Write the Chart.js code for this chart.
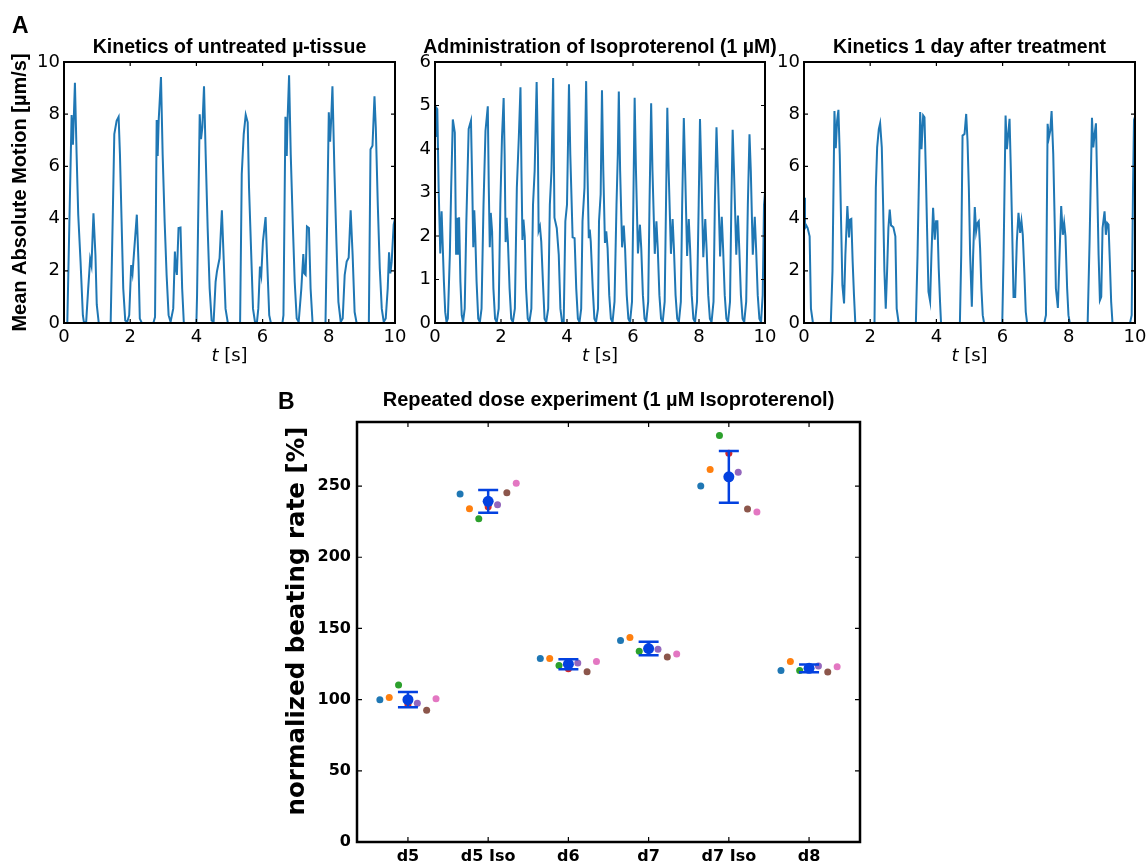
<!DOCTYPE html>
<html>
<head>
<meta charset="utf-8">
<script src="https://cdn.jsdelivr.net/npm/chart.js"></script>
<style>
  html, body { margin: 0; padding: 0; background: #fff; }
  body { position: relative; width: 1147px; height: 863px; overflow: hidden; }
  canvas { position: absolute; }
</style>
</head>
<body>
<canvas id="kin1" width="412" height="370" style="left:0;top:0"></canvas>
<canvas id="kin2" width="382" height="370" style="left:400px;top:0"></canvas>
<canvas id="kin3" width="385" height="370" style="left:770px;top:0"></canvas>
<canvas id="dose" width="600" height="483" style="left:270px;top:380px"></canvas>
<script>
// A: untreated tissue, mean absolute motion over 10 s
const t1 = [0, 0.1, 0.23, 0.27, 0.33, 0.38, 0.43, 0.5, 0.57, 0.6, 0.67,
  0.73, 0.79, 0.83, 0.89, 0.95, 0.99, 1.05, 1.41,
  1.47, 1.52, 1.59, 1.65, 1.69, 1.74, 1.79, 1.85, 1.91, 1.97,
  2.03, 2.07, 2.11, 2.2, 2.25, 2.29, 2.35, 2.7,
  2.75, 2.8, 2.83, 2.86, 2.93, 2.98, 3.04, 3.1, 3.16, 3.22,
  3.3, 3.35, 3.38, 3.41, 3.46, 3.52, 3.57, 3.62, 4.0,
  4.02, 4.1, 4.14, 4.18, 4.23, 4.28, 4.34, 4.4, 4.46, 4.52,
  4.58, 4.62, 4.7, 4.77, 4.82, 4.88, 4.95, 5.32,
  5.37, 5.43, 5.49, 5.55, 5.59, 5.65, 5.71, 5.77, 5.83,
  5.87, 5.92, 5.96, 6.01, 6.09, 6.15, 6.2, 6.25, 6.6,
  6.63, 6.69, 6.73, 6.75, 6.8, 6.85, 6.91, 6.97, 7.03, 7.09,
  7.17, 7.23, 7.26, 7.3, 7.34, 7.4, 7.45, 7.51, 7.9,
  7.95, 8.0, 8.04, 8.07, 8.11, 8.17, 8.23, 8.29, 8.36, 8.42,
  8.48, 8.54, 8.6, 8.66, 8.72, 8.78, 8.84, 9.21,
  9.26, 9.32, 9.38, 9.42, 9.48, 9.54, 9.6, 9.66, 9.72,
  9.78, 9.82, 9.86, 9.9, 9.96, 10];
const v1 = [0, 0, 7.97, 6.83, 9.2, 6.5, 4.15, 2.35, 0.3, 0.04, 0.04,
  1.3, 2.45, 2.2, 4.2, 2.6, 0.7, 0, 0,
  3.9, 7.24, 7.75, 7.9, 6.47, 3.9, 1.32, 0.1, 0.04, 0.3,
  2.22, 1.9, 2.6, 4.15, 2.35, 0.17, 0, 0,
  0.23, 7.78, 6.4, 7.75, 9.42, 6.47, 3.9, 1.84, 0.3, 0.04,
  0.55, 2.74, 2.1, 1.84, 3.64, 3.66, 1.32, 0, 0,
  1.07, 8.0, 7.04, 7.5, 9.07, 6.47, 3.64, 1.32, 0.1, 0.04,
  1.58, 1.97, 2.48, 4.32, 2.6, 0.55, 0, 0,
  5.7, 7.24, 7.98, 7.69, 5.18, 2.87, 0.55, 0.04, 0.04,
  0.55, 2.16, 1.84, 3.12, 4.06, 1.97, 0.3, 0, 0,
  0.3, 7.9, 6.4, 7.62, 9.49, 6.47, 3.9, 1.58, 0.17, 0.04,
  1.32, 2.64, 1.9, 1.84, 3.7, 3.64, 1.32, 0, 0,
  3.9, 8.07, 6.95, 7.75, 9.07, 5.82, 3.12, 0.81, 0.04, 0.17,
  1.84, 2.35, 2.5, 4.32, 2.6, 0.42, 0, 0,
  6.66, 6.79, 8.69, 7.49, 4.54, 2.1, 0.55, 0.04, 0.17,
  1.32, 2.71, 1.9, 2.35, 3.77, 4.0];

// A: during isoproterenol administration
const t2 = [0, 0.03, 0.07, 0.11, 0.16, 0.2, 0.23, 0.27, 0.31, 0.35, 0.39,
  0.45, 0.49, 0.54, 0.6, 0.64, 0.68, 0.7, 0.73, 0.77, 0.81, 0.85, 0.9,
  0.95, 1.02, 1.09, 1.13, 1.16, 1.19, 1.22, 1.26, 1.31, 1.36, 1.41,
  1.47, 1.53, 1.6, 1.63, 1.66, 1.69, 1.73, 1.77, 1.82, 1.87, 1.93,
  1.98, 2.03, 2.08, 2.11, 2.14, 2.17, 2.21, 2.26, 2.31, 2.36, 2.42,
  2.48, 2.54, 2.59, 2.62, 2.65, 2.68, 2.72, 2.76, 2.81, 2.86, 2.92,
  2.97, 3.02, 3.08, 3.12, 3.14, 3.18, 3.22, 3.27, 3.32, 3.37, 3.43,
  3.48, 3.53, 3.58, 3.62, 3.69, 3.75, 3.8, 3.85, 3.9,
  3.95, 4.0, 4.06, 4.1, 4.17, 4.23, 4.28, 4.33, 4.38, 4.43,
  4.47, 4.53, 4.58, 4.62, 4.66, 4.69, 4.72, 4.78, 4.83, 4.88, 4.94,
  4.97, 5.02, 5.06, 5.1, 5.15, 5.19, 5.23, 5.28, 5.33, 5.38, 5.44,
  5.5, 5.54, 5.57, 5.61, 5.67, 5.72, 5.76, 5.81, 5.86, 5.91, 5.97,
  6.01, 6.05, 6.09, 6.15, 6.21, 6.25, 6.3, 6.35, 6.4, 6.46,
  6.5, 6.55, 6.59, 6.66, 6.71, 6.75, 6.8, 6.85, 6.9, 6.96,
  7.0, 7.04, 7.08, 7.15, 7.2, 7.24, 7.29, 7.34, 7.39, 7.45,
  7.49, 7.54, 7.58, 7.64, 7.69, 7.73, 7.78, 7.83, 7.88, 7.94,
  7.99, 8.03, 8.07, 8.13, 8.19, 8.23, 8.28, 8.33, 8.38, 8.44,
  8.48, 8.53, 8.57, 8.64, 8.69, 8.73, 8.78, 8.83, 8.88, 8.94,
  8.98, 9.02, 9.06, 9.13, 9.18, 9.22, 9.27, 9.32, 9.37, 9.43,
  9.48, 9.53, 9.57, 9.63, 9.69, 9.73, 9.78, 9.83, 9.88, 9.93, 9.97, 10];
const v2 = [4.3, 4.96, 4.92, 3.11, 1.6, 2.57, 1.87, 0.95, 0.25, 0.02, 0.1,
  1.57, 3.11, 4.68, 4.38, 1.57, 2.42, 1.57, 2.43, 0.95, 0.18, 0.02, 0.33,
  2.34, 4.46, 4.65, 3.11, 1.74, 2.59, 2.03, 0.95, 0.1, 0.02, 0.33,
  2.72, 4.42, 4.98, 3.11, 1.74, 2.53, 2.11, 0.79, 0.1, 0.02, 0.33,
  2.72, 4.27, 5.17, 3.88, 1.86, 2.42, 1.87, 0.79, 0.1, 0.02, 0.33,
  3.11, 4.27, 5.42, 3.5, 1.91, 2.38, 1.99, 0.79, 0.1, 0.02, 0.33,
  2.72, 3.5, 5.54, 3.88, 2.12, 2.22, 1.87, 0.95, 0.1, 0.02, 0.33,
  2.72, 3.5, 5.63, 2.42, 2.18, 1.57, 0.33, 0.02, 0.02,
  2.34, 2.72, 5.49, 3.88, 1.97, 1.95, 0.79, 0.1, 0.02, 0.33,
  2.34, 3.11, 5.56, 3.5, 1.95, 2.15, 1.87, 0.79, 0.1, 0.02, 0.33,
  2.34, 2.96, 5.35, 3.5, 1.84, 2.11, 1.72, 0.64, 0.1, 0.02, 0.49,
  2.72, 3.88, 5.32, 3.5, 1.74, 2.24, 1.72, 0.64, 0.1, 0.02, 0.49,
  2.72, 5.18, 3.5, 1.6, 2.26, 1.72, 0.64, 0.1, 0.02, 0.49,
  2.72, 5.05, 3.5, 1.59, 2.34, 1.72, 0.64, 0.1, 0.02, 0.49,
  2.72, 4.95, 3.5, 1.59, 2.39, 1.72, 0.64, 0.1, 0.02, 0.49,
  2.72, 4.71, 3.5, 1.54, 2.39, 1.72, 0.64, 0.1, 0.02, 0.49,
  2.72, 4.69, 3.5, 1.51, 2.39, 1.72, 0.64, 0.1, 0.02, 0.49,
  2.72, 4.5, 3.5, 1.53, 2.44, 1.72, 0.64, 0.1, 0.02, 0.49,
  2.72, 4.44, 3.5, 1.57, 2.47, 1.72, 0.64, 0.1, 0.02, 0.49,
  2.72, 4.34, 3.5, 1.57, 2.44, 1.72, 0.64, 0.1, 0.02, 0.64, 2.72, 3.0];

// A: one day after treatment
const t3 = [0, 0.03, 0.07, 0.11, 0.17, 0.21, 0.27, 0.81,
  0.86, 0.92, 0.96, 1.0, 1.04, 1.08, 1.12, 1.16, 1.21,
  1.25, 1.31, 1.36, 1.39, 1.43, 1.47, 1.51, 1.55, 2.13,
  2.17, 2.21, 2.26, 2.3, 2.35, 2.39, 2.43, 2.47,
  2.51, 2.55, 2.59, 2.63, 2.7, 2.76, 2.8, 2.86, 3.38,
  3.43, 3.51, 3.55, 3.6, 3.64, 3.68, 3.72, 3.76, 3.81,
  3.85, 3.9, 3.95, 3.99, 4.03, 4.07, 4.11, 4.14, 4.71,
  4.75, 4.79, 4.85, 4.9, 4.94, 4.98, 5.02, 5.07,
  5.11, 5.16, 5.2, 5.24, 5.28, 5.32, 5.36, 5.4, 5.44, 5.99,
  6.03, 6.09, 6.13, 6.17, 6.21, 6.25, 6.29, 6.33, 6.38,
  6.43, 6.48, 6.53, 6.57, 6.61, 6.66, 6.7, 6.74, 7.26,
  7.31, 7.36, 7.4, 7.44, 7.48, 7.53, 7.58, 7.61, 7.67,
  7.72, 7.77, 7.82, 7.86, 7.9, 7.95, 7.99, 8.03, 8.57,
  8.63, 8.7, 8.74, 8.78, 8.82, 8.86, 8.9, 8.94, 8.98,
  9.02, 9.08, 9.12, 9.16, 9.2, 9.24, 9.28, 9.32, 9.85,
  9.9, 9.94, 9.97, 10];
const v3 = [4.8, 3.64, 3.74, 3.64, 3.32, 0.55, 0, 0,
  1.97, 8.12, 6.7, 7.76, 8.17, 6.47, 3.9, 1.45, 0.75,
  2.61, 4.48, 3.28, 3.96, 3.99, 2.35, 1.07, 0, 0,
  5.18, 6.73, 7.43, 7.65, 6.73, 4.54, 1.97, 0.55,
  1.97, 3.64, 4.35, 3.74, 3.67, 3.32, 0.55, 0, 0,
  2.61, 8.08, 6.66, 7.95, 7.88, 5.83, 3.51, 1.2, 0.84,
  2.61, 4.41, 3.19, 3.9, 3.9, 2.1, 0.81, 0, 0,
  2.61, 7.18, 7.24, 8.01, 6.98, 5.18, 2.6, 0.62,
  2.61, 4.44, 3.51, 3.83, 3.9, 2.87, 1.32, 0.3, 0, 0,
  2.61, 7.95, 6.66, 7.24, 7.82, 5.83, 3.51, 1.0, 1.0,
  3.13, 4.22, 3.45, 3.9, 3.38, 1.84, 0.42, 0, 0,
  0.3, 7.63, 7.11, 7.37, 8.12, 6.47, 3.51, 1.32, 0.58,
  2.61, 4.48, 3.38, 3.83, 3.32, 1.32, 0.3, 0, 0,
  3.25, 7.86, 6.73, 7.24, 7.65, 5.18, 2.61, 0.87, 1.0,
  3.64, 4.28, 3.38, 3.83, 3.77, 2.35, 0.81, 0, 0,
  0.3, 5.18, 7.79, 7.9];

// B: repeated dose experiment, one array per tissue
const doses = ['d5', 'd5 Iso', 'd6', 'd7', 'd7 Iso', 'd8'];
const tissue1 = [100, 244.4, 128.9, 141.5, 250, 120.5];
const tissue2 = [101.5, 234, 128.9, 143.6, 261.7, 126.7];
const tissue3 = [110.3, 227, 124, 134, 285.6, 120.5];
const tissue4 = [96.5, 235.5, 121.6, 135, 273, 121.5];
const tissue5 = [97.5, 236.9, 125.7, 135.4, 259.7, 123.6];
const tissue6 = [92.6, 245.3, 119.5, 130, 233.9, 119.4];
const tissue7 = [100.6, 251.9, 126.7, 132.1, 231.8, 123.1];
const meanRate = [100, 239.3, 124.9, 135.9, 256.5, 122];
const errRate = [5.3, 8, 3.5, 4.7, 18.2, 2.7];

const jitter = [-0.35, -0.233, -0.117, 0, 0.117, 0.233, 0.35];
const tab10 = ['#1f77b4', '#ff7f0e', '#2ca02c', '#d62728', '#9467bd', '#8c564b', '#e377c2'];
const meanBlue = '#0341e0';

Chart.defaults.font.family = 'DejaVu Sans';
Chart.defaults.color = '#000';
Chart.defaults.animation = false;
Chart.defaults.plugins.legend.display = false;
Chart.defaults.plugins.tooltip.enabled = false;

// matplotlib-like box with inward ticks on all four sides
const boxTicks = {
  id: 'boxTicks',
  afterDraw(chart, args, o) {
    const { ctx, chartArea: a, scales: { x, y } } = chart;
    ctx.save();
    ctx.strokeStyle = '#000';
    ctx.lineWidth = 1.2;
    ctx.beginPath();
    x.ticks.forEach(t => {
      const px = x.getPixelForValue(t.value);
      ctx.moveTo(px, a.bottom); ctx.lineTo(px, a.bottom - o.len);
      ctx.moveTo(px, a.top); ctx.lineTo(px, a.top + o.len);
    });
    y.ticks.forEach(t => {
      const py = y.getPixelForValue(t.value);
      ctx.moveTo(a.left, py); ctx.lineTo(a.left + o.len, py);
      ctx.moveTo(a.right, py); ctx.lineTo(a.right - o.len, py);
    });
    ctx.stroke();
    ctx.lineWidth = o.frame;
    ctx.strokeRect(a.left, a.top, a.right - a.left, a.bottom - a.top);
    ctx.restore();
  }
};

// heading over the plot area, the panel letter and an optional rotated y label
const heading = {
  id: 'heading',
  afterDraw(chart, args, o) {
    const { ctx, chartArea: a } = chart;
    ctx.save();
    ctx.fillStyle = '#000';
    ctx.textBaseline = 'middle';
    ctx.textAlign = 'center';
    ctx.font = 'bold ' + o.size + 'px "Liberation Sans"';
    ctx.fillText(o.text, (a.left + a.right) / 2, a.top - o.gap);
    if (o.ylabel) {
      ctx.save();
      ctx.translate(o.ylabel.x, (a.top + a.bottom) / 2 + o.ylabel.shift);
      ctx.rotate(-Math.PI / 2);
      ctx.font = o.ylabel.font;
      ctx.fillText(o.ylabel.text, 0, 0);
      ctx.restore();
    }
    if (o.letter) {
      ctx.textAlign = 'left';
      ctx.textBaseline = 'alphabetic';
      ctx.font = 'bold 23px "Liberation Sans"';
      ctx.fillText(o.letter, o.lx, o.ly);
    }
    ctx.restore();
  }
};

// x title "t [s]" with italic t
const timeTitle = {
  id: 'timeTitle',
  afterDraw(chart, args, o) {
    const { ctx, chartArea: a } = chart;
    const it = 'italic 18px "DejaVu Sans"', up = '18px "DejaVu Sans"';
    ctx.save();
    ctx.fillStyle = '#000';
    ctx.textBaseline = 'middle';
    ctx.textAlign = 'left';
    ctx.font = it;
    const w1 = ctx.measureText('t').width;
    ctx.font = up;
    const w2 = ctx.measureText(' [s]').width;
    const x0 = (a.left + a.right) / 2 - (w1 + w2) / 2;
    ctx.font = it;
    ctx.fillText('t', x0, a.bottom + o.offset);
    ctx.font = up;
    ctx.fillText(' [s]', x0 + w1, a.bottom + o.offset);
    ctx.restore();
  }
};

const errorBars = {
  id: 'errorBars',
  afterDatasetsDraw(chart, args, o) {
    const { ctx, scales: { x, y } } = chart;
    ctx.save();
    ctx.strokeStyle = o.color;
    ctx.lineWidth = o.width;
    meanRate.forEach((m, i) => {
      const px = x.getPixelForValue(i);
      const hi = y.getPixelForValue(m + errRate[i]);
      const lo = y.getPixelForValue(m - errRate[i]);
      ctx.beginPath();
      ctx.moveTo(px, hi); ctx.lineTo(px, lo);
      ctx.moveTo(px - o.cap, hi); ctx.lineTo(px + o.cap, hi);
      ctx.moveTo(px - o.cap, lo); ctx.lineTo(px + o.cap, lo);
      ctx.stroke();
    });
    ctx.restore();
  }
};

function kinetics(id, t, v, cfg) {
  return new Chart(document.getElementById(id), {
    type: 'line',
    data: {
      datasets: [{
        data: t.map((x, i) => ({ x, y: v[i] })),
        borderColor: '#1f77b4',
        borderWidth: 2,
        pointRadius: 0,
        tension: 0
      }]
    },
    options: {
      responsive: false,
      layout: { padding: { left: 0, right: cfg.padRight, top: 62, bottom: 0 } },
      plugins: {
        heading: { text: cfg.title, size: 19.5, gap: 14, letter: cfg.letter, lx: 12, ly: 33 },
        boxTicks: { len: 4, frame: 2 },
        timeTitle: { offset: 33 }
      },
      scales: {
        x: {
          type: 'linear', min: 0, max: 10,
          grid: { display: false, drawTicks: false },
          border: { display: false },
          ticks: { stepSize: 2, padding: 4, maxRotation: 0, includeBounds: false, font: { size: 18 } },
          afterFit(s) { s.height = 47; }
        },
        y: {
          min: 0, max: cfg.yMax,
          grid: { display: false, drawTicks: false },
          border: { display: false },
          ticks: { stepSize: cfg.yStep, padding: 4, includeBounds: false, font: { size: 18 } },
          title: {
            display: !!cfg.yTitle,
            text: cfg.yTitle,
            font: { family: 'Liberation Sans', weight: 'bold', size: 20 },
            padding: { top: 8, bottom: 0 }
          },
          afterFit(s) { s.width = cfg.yWidth; }
        }
      }
    },
    plugins: [boxTicks, heading, timeTitle]
  });
}

kinetics('kin1', t1, v1, {
  title: 'Kinetics of untreated µ-tissue', letter: 'A',
  yMax: 10, yStep: 2, yWidth: 64, padRight: 17,
  yTitle: 'Mean Absolute Motion [µm/s]'
});
kinetics('kin2', t2, v2, {
  title: 'Administration of Isoproterenol (1 µM)',
  yMax: 6, yStep: 1, yWidth: 35, padRight: 17
});
kinetics('kin3', t3, v3, {
  title: 'Kinetics 1 day after treatment',
  yMax: 10, yStep: 2, yWidth: 34, padRight: 20
});

const tissues = [tissue1, tissue2, tissue3, tissue4, tissue5, tissue6, tissue7];
const doseSets = tissues.map((vals, k) => ({
  data: vals.map((y, i) => ({ x: i + jitter[k], y })),
  backgroundColor: tab10[k],
  borderWidth: 0,
  pointRadius: 3.5,
  order: 2
}));
doseSets.push({
  data: meanRate.map((y, i) => ({ x: i, y })),
  backgroundColor: meanBlue,
  borderWidth: 0,
  pointRadius: 5.5,
  order: 1
});

new Chart(document.getElementById('dose'), {
  type: 'scatter',
  data: { datasets: doseSets },
  options: {
    responsive: false,
    layout: { padding: { left: 0, right: 10, top: 42, bottom: 0 } },
    plugins: {
      heading: {
        text: 'Repeated dose experiment (1 µM Isoproterenol)', size: 20, gap: 22,
        letter: 'B', lx: 8, ly: 29,
        ylabel: { text: 'normalized beating rate [%]', font: 'bold 24.5px "DejaVu Sans"', x: 28, shift: -11 }
      },
      boxTicks: { len: 5, frame: 2.5 },
      errorBars: { color: meanBlue, width: 2.5, cap: 10 }
    },
    scales: {
      x: {
        type: 'linear', min: -0.635, max: 5.635,
        grid: { display: false, drawTicks: false },
        border: { display: false },
        ticks: {
          stepSize: 1, padding: 5, maxRotation: 0, autoSkip: false, includeBounds: false,
          font: { size: 16, weight: 'bold' },
          callback: v => doses[v]
        },
        afterFit(s) { s.height = 21; }
      },
      y: {
        min: 0, max: 295,
        grid: { display: false, drawTicks: false },
        border: { display: false },
        ticks: { stepSize: 50, padding: 6, includeBounds: false, font: { size: 16, weight: 'bold' } },
        afterFit(s) { s.width = 87; }
      }
    }
  },
  plugins: [boxTicks, heading, errorBars]
});
</script>
</body>
</html>
